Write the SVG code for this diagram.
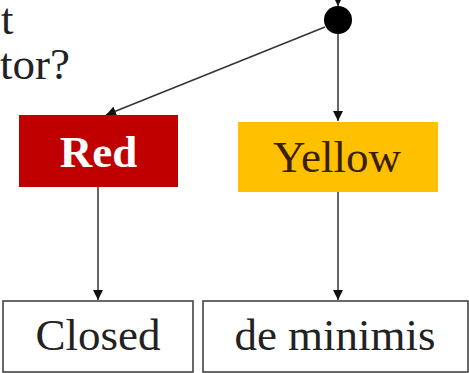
<svg xmlns="http://www.w3.org/2000/svg" width="469" height="373" viewBox="0 0 469 373">
<defs>
<marker id="ah" viewBox="0 0 10 10" refX="10" refY="5" markerWidth="10" markerHeight="10" markerUnits="userSpaceOnUse" orient="auto">
<path d="M0,0 L10,5 L0,10 z" fill="#111"/>
</marker>
<style>
.t{font-family:"Liberation Serif","Times New Roman",serif;font-size:45px;}
.c{stroke:#333;stroke-width:1.5;fill:none;}
.box{fill:#fff;stroke:#444;stroke-width:1.6;}
</style>
</defs>
<rect width="469" height="373" fill="#fff"/>
<g id="question">
<text class="t" fill="#222"><tspan x="1" y="34">t</tspan><tspan x="0" y="79">tor?</tspan></text>
</g>
<g id="connectors">
<line class="c" x1="338" y1="-4" x2="338" y2="6" marker-end="url(#ah)"/>
<line class="c" x1="325" y1="27" x2="106" y2="115" marker-end="url(#ah)"/>
<line class="c" x1="338" y1="34" x2="338" y2="121" marker-end="url(#ah)"/>
<line class="c" x1="98" y1="187" x2="98" y2="300" marker-end="url(#ah)"/>
<line class="c" x1="338" y1="192" x2="338" y2="300" marker-end="url(#ah)"/>
</g>
<g id="dot">
<circle cx="338" cy="20" r="14" fill="#000"/>
</g>
<g id="red">
<rect x="19" y="115" width="159" height="72" fill="#C00000"/>
<text class="t" x="98.5" y="167" fill="#fff" font-weight="bold" text-anchor="middle">Red</text>
</g>
<g id="yellow">
<rect x="238" y="122" width="200" height="70" fill="#FFC000"/>
<text class="t" x="337" y="172" fill="#3a2000" text-anchor="middle">Yellow</text>
</g>
<g id="closed">
<rect class="box" x="3" y="301" width="190" height="71"/>
<text class="t" x="98" y="350" fill="#222" text-anchor="middle">Closed</text>
</g>
<g id="deminimis">
<rect class="box" x="203" y="301" width="265" height="71"/>
<text class="t" x="335" y="350" fill="#222" text-anchor="middle">de minimis</text>
</g>
</svg>
